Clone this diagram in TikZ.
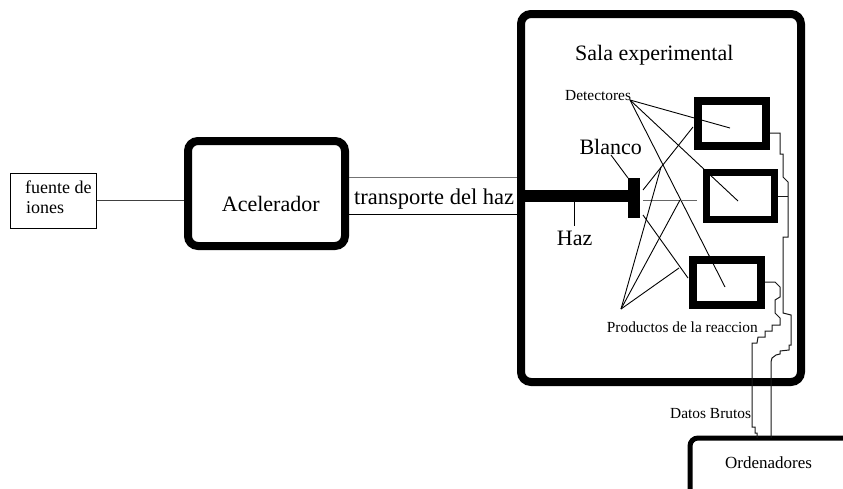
\documentclass[tikz,border=0pt]{standalone}
\usepackage{fontspec}
\setmainfont{Liberation Serif}
\begin{document}
\begin{tikzpicture}[x=1pt,y=-1pt,
  heavy/.style={draw, line width=8pt, rounded corners=10pt, inner sep=0pt},
  detbox/.style={draw, inner sep=0pt},
  thinline/.style={line width=0.9pt},
  wire/.style={line width=1pt, black!90},
  lbl/.style={inner sep=0pt, anchor=base west},
  big/.style={font=\fontsize{22}{24}\selectfont},
  small/.style={font=\fontsize{15.4}{17}\selectfont},
]
\useasboundingbox (0,0) rectangle (843,488);
\clip (0,0) rectangle (843,488);

% boxes
\node[draw, line width=1pt, minimum width=86pt, minimum height=55pt, inner sep=0pt] (fuente) at (53.5,200.5) {};
\node[heavy, minimum width=157pt, minimum height=105pt] (acc) at (266.5,193.5) {};
\node[heavy, minimum width=280pt, minimum height=368pt] (sala) at (661,198) {};
\node[detbox, line width=8pt, minimum width=68.5pt, minimum height=45pt] (det1) at (731.75,123.5) {};
\node[detbox, line width=7pt, minimum width=68pt, minimum height=47pt] (det2) at (740.5,196) {};
\node[detbox, line width=8pt, minimum width=67.7pt, minimum height=45.3pt] (det3) at (727.2,282.7) {};
\node[draw, line width=5pt, rounded corners=8pt, minimum width=240pt, minimum height=124pt, inner sep=0pt] (ord) at (810,500) {};
\node[fill=black, minimum width=12pt, minimum height=40pt, inner sep=0pt] (blanco) at (634,198) {};

% texts
\node[lbl, font=\fontsize{18}{20}\selectfont] (tfu1) at (25,193.3) {fuente de};
\node[lbl, font=\fontsize{18}{20}\selectfont] (tfu2) at (26,213.3) {iones};
\node[lbl, big] (tacc) at (221.7,211.7) {Acelerador};
\node[lbl, font=\fontsize{22.5}{24}\selectfont] (ttr) at (354,204) {transporte del haz};
\node[lbl, big] (tsala) at (575,60.7) {Sala experimental};
\node[lbl, small] (tdet) at (565,100.7) {Detectores};
\node[lbl, big] (tbl) at (579.3,154.3) {Blanco};
\node[lbl, big] (thaz) at (556.7,245) {Haz};
\node[lbl, small] (tprod) at (606.7,332.3) {Productos de la reaccion};
\node[lbl, small] (tdat) at (670,418.3) {Datos Brutos};
\node[lbl, font=\fontsize{17}{19}\selectfont] (tord) at (725,468.3) {Ordenadores};

% coordinates
\coordinate (ly) at (0,200.7);
\coordinate (tr1) at (0,177.7);
\coordinate (tr2) at (0,214);
\coordinate (beamL) at (521,196);
\coordinate (beamR) at (627.5,196);
\coordinate (hazA) at (574,202);
\coordinate (hazB) at (574,226);
\coordinate (blA) at (611,155);
\coordinate (blB) at (628,178);
\coordinate (dp) at (630,100);
\coordinate (d1in) at (730,128);
\coordinate (d2in) at (738,201);
\coordinate (d3in) at (725,287);
\coordinate (ta1) at (643,190);
\coordinate (tb1) at (693,127);
\coordinate (ta2) at (643,200);
\coordinate (tb2) at (697,200);
\coordinate (ta3) at (643,215);
\coordinate (tb3) at (688,278);
\coordinate (pp) at (621,309);
\coordinate (p1) at (661,167);
\coordinate (p2) at (680,200);
\coordinate (p3) at (679,268);

% connectors
\draw[thinline, black!75] (fuente.east |- ly) -- (acc.west |- ly);
\draw[thinline, black!55] (acc.east |- tr1) -- (sala.west |- tr1);
\draw[thinline] (acc.east |- tr2) -- (sala.west |- tr2);
\draw[line width=12pt] (beamL) -- (beamR);
\draw[thinline] (hazA) -- (hazB);
\draw[thinline] (blA) -- (blB);
\draw[thinline] (dp) -- (d1in);
\draw[thinline] (dp) -- (d2in);
\draw[thinline] (dp) -- (d3in);
\draw[thinline] (ta1) -- (tb1);
\draw[thinline, black!60] (ta2) -- (tb2);
\draw[thinline] (ta3) -- (tb3);
\draw[thinline] (pp) -- (p1);
\draw[thinline] (pp) -- (p2);
\draw[thinline] (pp) -- (p3);

% wires
\draw[wire] (det1.east |- 0,133) -- (780,133) -- (780,154) -- (783,154) -- (783,177) -- (788,182)
  -- (788,237) -- (783,237) -- (783,313) -- (791,315) -- (791,345) -- (789,345) -- (789,350)
  -- (780,351) -- (780,354) -- (776,355) -- (772,358) -- (771,362) -- (771,438);
\draw[wire] (det2.east) -- (788,196);
\draw[wire] (det3.east |- 0,282) -- (775,282) -- (780,287) -- (780,297) -- (775,300) -- (775,313)
  -- (780,318) -- (780,325) -- (772,325) -- (772,331) -- (765,331) -- (765,337) -- (758,337)
  -- (757,343) -- (752,343) -- (752,427) -- (755,427) -- (755,433) -- (757,433) -- (757,438);
\end{tikzpicture}
\end{document}
